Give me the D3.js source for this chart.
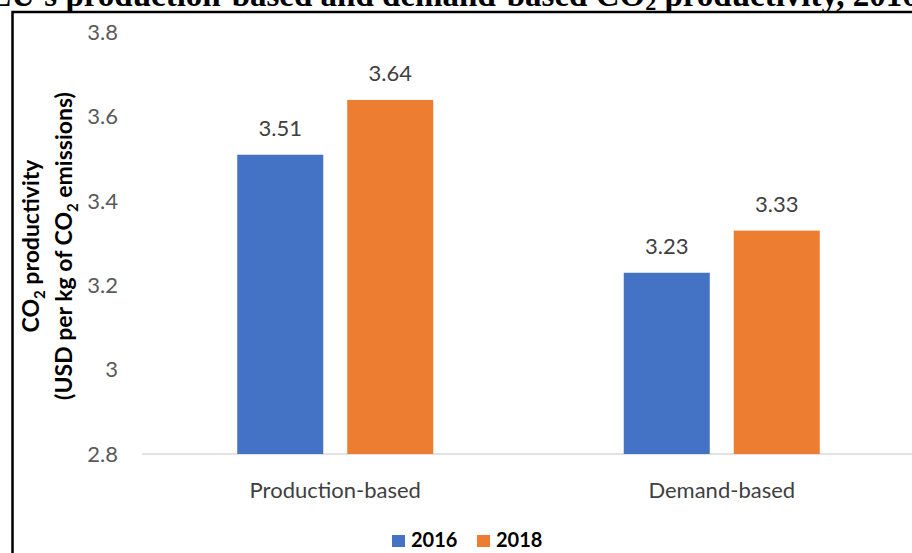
<!DOCTYPE html>
<html>
<head>
<meta charset="utf-8">
<script src="https://cdn.jsdelivr.net/npm/d3@7"></script>
<style>
  html, body { margin: 0; padding: 0; background: #fff; overflow: hidden; }
  svg { display: block; }
</style>
</head>
<body>
<script>
const categories = ["Production-based", "Demand-based"];
const series = ["2016", "2018"];
const values2016 = [3.51, 3.23];
const values2018 = [3.64, 3.33];
const yTicks = [2.8, 3.0, 3.2, 3.4, 3.6, 3.8];
const colors = ["#4472C4", "#ED7D31"];

const W = 912, H = 553;
const svg = d3.select("body").append("svg").attr("width", W).attr("height", H);

const font = "Lato, 'Open Sans', sans-serif";

// Title (clipped at top, as in the reference)
const title = svg.append("text")
  .attr("x", 454).attr("y", 6)
  .attr("text-anchor", "middle")
  .attr("font-family", "'Liberation Serif', 'Times New Roman', serif")
  .attr("font-weight", "bold")
  .attr("font-size", 33)
  .attr("fill", "#000");
title.append("tspan").text("EU's production-based and demand-based CO");
title.append("tspan").attr("font-size", 22).attr("dy", 4).text("2");
title.append("tspan").attr("dy", -4).text(" productivity, 2016");

// Frame
svg.append("rect")
  .attr("x", 12.5).attr("y", 12)
  .attr("width", 1000).attr("height", 1000)
  .attr("fill", "none").attr("stroke", "#000").attr("stroke-width", 2.5);

const y = d3.scaleLinear().domain([2.8, 3.8]).range([454, 32.5]);
const x0 = d3.scaleBand().domain(categories).range([142, 915]).paddingInner(0).paddingOuter(0);
const groupW = 196;
const x1 = d3.scaleBand().domain(series).range([0, groupW]).paddingInner(0.218).paddingOuter(0);

// Y axis labels
const yAxis = d3.axisLeft(y).tickValues(yTicks).tickSize(0).tickPadding(0)
  .tickFormat(d => d3.format("~g")(+d.toFixed(1)));
const yg = svg.append("g").attr("transform", "translate(118,0)").call(yAxis);
yg.select(".domain").remove();
yg.selectAll("text")
  .attr("font-family", font).attr("font-size", 22).attr("fill", "#595959");

// baseline
svg.append("line")
  .attr("x1", 142).attr("x2", 915)
  .attr("y1", y(2.8)).attr("y2", y(2.8))
  .attr("stroke", "#d9d9d9").attr("stroke-width", 1.5);

// Bars
const data = categories.map((c, i) => ({ cat: c, vals: [values2016[i], values2018[i]] }));
const groups = svg.append("g").selectAll("g").data(data).join("g")
  .attr("transform", d => `translate(${x0(d.cat) + (x0.bandwidth() - groupW) / 2},0)`);
groups.selectAll("rect").data(d => d.vals.map((v, j) => ({ s: series[j], v, j })))
  .join("rect")
  .attr("x", d => x1(d.s))
  .attr("width", x1.bandwidth())
  .attr("y", d => y(d.v))
  .attr("height", d => y(2.8) - y(d.v))
  .attr("fill", d => colors[d.j]);
groups.selectAll("text.val").data(d => d.vals.map((v, j) => ({ s: series[j], v, j })))
  .join("text").attr("class", "val")
  .attr("x", d => x1(d.s) + x1.bandwidth() / 2)
  .attr("y", d => y(d.v) - 19)
  .attr("text-anchor", "middle")
  .attr("font-family", font).attr("font-size", 22).attr("fill", "#404040")
  .text(d => d.v.toFixed(2));

// X axis labels
const xAxis = d3.axisBottom(x0).tickSize(0).tickPadding(0);
const xg = svg.append("g").attr("transform", `translate(0,${y(2.8) + 44})`).call(xAxis);
xg.select(".domain").remove();
xg.selectAll("text")
  .attr("dy", 0)
  .attr("font-family", font).attr("font-size", 22).attr("fill", "#404040");

// Y axis title
const yt = svg.append("g").attr("transform", "translate(0,246)");
const t1 = yt.append("text")
  .attr("transform", "translate(39,0) rotate(-90)")
  .attr("text-anchor", "middle")
  .attr("font-family", font).attr("font-weight", "bold").attr("font-size", 23).attr("fill", "#000");
t1.append("tspan").text("CO");
t1.append("tspan").attr("font-size", 15).attr("dy", 6).text("2");
t1.append("tspan").attr("dy", -6).text(" productivity");
const t2 = yt.append("text")
  .attr("transform", "translate(72,0) rotate(-90)")
  .attr("text-anchor", "middle")
  .attr("font-family", font).attr("font-weight", "bold").attr("font-size", 23).attr("fill", "#000");
t2.append("tspan").text("(USD per kg of CO");
t2.append("tspan").attr("font-size", 15).attr("dy", 6).text("2");
t2.append("tspan").attr("dy", -6).text(" emissions)");

// Legend
const legend = svg.append("g").attr("transform", "translate(392,535)");
const items = legend.selectAll("g").data(series).join("g")
  .attr("transform", (d, i) => `translate(${i * 85},0)`);
items.append("rect").attr("width", 13).attr("height", 12).attr("fill", (d, i) => colors[i]);
items.append("text").attr("x", 19).attr("y", 12)
  .attr("font-family", font).attr("font-weight", "bold").attr("font-size", 20).attr("fill", "#000")
  .text(d => d);
</script>
</body>
</html>
